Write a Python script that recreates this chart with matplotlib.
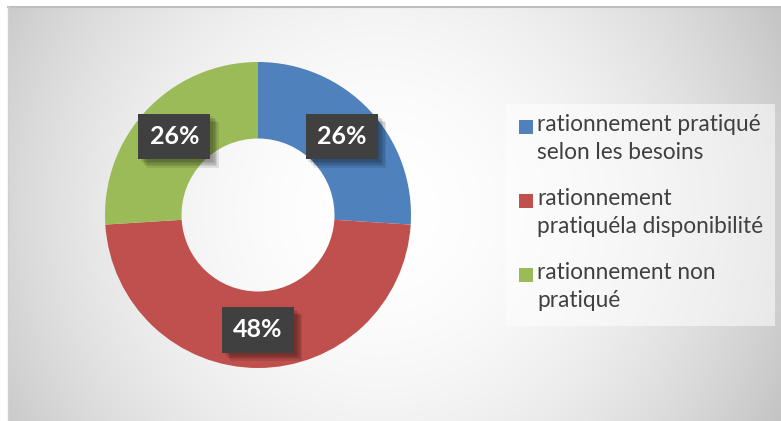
import numpy as np
import matplotlib.pyplot as plt
import matplotlib.patheffects as pe
from matplotlib.patches import Rectangle

# data
categories = ['rationnement pratiqué\nselon les besoins',
              'rationnement\npratiquéla disponibilité',
              'rationnement non\npratiqué']
shares = [26, 48, 26]
colors = ['#4F81BD', '#C0504D', '#9BBB59']

plt.rcParams['font.family'] = ['Lato', 'DejaVu Sans']

W, H = 781, 421
fig = plt.figure(figsize=(W / 100, H / 100), dpi=100)
fig.patch.set_facecolor('white')

# background axes in pixel coordinates
bg = fig.add_axes([0, 0, 1, 1])
bg.set_xlim(0, W)
bg.set_ylim(H, 0)
bg.axis('off')

# radial grey gradient of the chart area
x0, y0 = 8, 7
xs = np.arange(x0, W) + 0.5
ys = np.arange(y0, H) + 0.5
X, Y = np.meshgrid(xs, ys)
r = np.hypot(X - 380, Y - 212)
val = 1 - 0.22 * (r / 440) ** 2
img = np.dstack([val, val, val])
bg.imshow(img, extent=(x0, W, H, y0), interpolation='bilinear', zorder=0)
bg.plot([x0, W], [y0, y0], color='#bfbfbf', lw=1.5, zorder=1)
bg.plot([x0, x0], [y0, H], color='#d0d0d0', lw=1, zorder=1)

# legend box
bg.add_patch(Rectangle((506, 104), 269, 222, facecolor='white', alpha=0.55,
                       edgecolor='none', zorder=2))
entry_top = [120, 194, 268]
for top, label, c in zip(entry_top, categories, colors):
    bg.add_patch(Rectangle((519, top), 14, 14, facecolor=c, edgecolor='none', zorder=3))
    bg.text(537, top - 6, label, fontsize=16.3, color='#404040', va='top', ha='left',
            linespacing=1.42, zorder=3)

# donut
R = 153
cx, cy = 258, 215
ax = fig.add_axes([(cx - R) / W, (H - cy - R) / H, 2 * R / W, 2 * R / H])
ax.set_facecolor('none')
wedges, _ = ax.pie(shares, colors=colors, startangle=90, counterclock=False,
                   radius=1, wedgeprops=dict(width=0.5, edgecolor='none'))
ax.set_xlim(-1, 1)
ax.set_ylim(-1, 1)
ax.axis('off')

# soft drop shadow behind the data labels
rl = 0.75
shadow = [pe.SimplePatchShadow(offset=(d, -d), shadow_rgbFace='black', alpha=0.09)
          for d in (2, 3, 4, 5, 6)] + [pe.Normal()]
for w, s in zip(wedges, shares):
    ang = np.deg2rad((w.theta1 + w.theta2) / 2)
    px, py = rl * np.cos(ang), rl * np.sin(ang)
    ax.text(px, py, f'{s}%', fontsize=18, fontweight='bold', color='white',
            ha='center', va='center',
            bbox=dict(boxstyle='square,pad=0.45', facecolor='#404040',
                      edgecolor='none', path_effects=shadow))

fig.savefig('out.png', dpi=100)
